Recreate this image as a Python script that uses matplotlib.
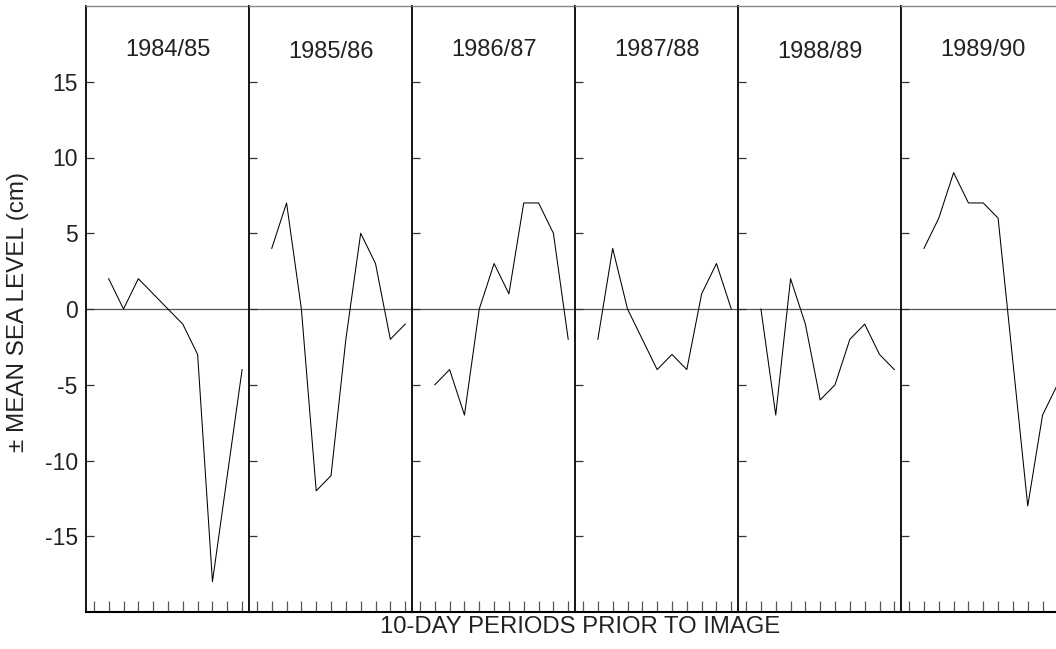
import matplotlib
matplotlib.use("Agg")
import matplotlib.pyplot as plt
import numpy as np

plt.rcParams['font.family'] = ['Liberation Sans', 'DejaVu Sans']
plt.rcParams['axes.unicode_minus'] = False

seasons = ["1984/85", "1985/86", "1986/87", "1987/88", "1988/89", "1989/90"]
periods = list(range(1, 11))
s1984 = [2, 0, 2, 1, 0, -1, -3, -18, -11, -4]
s1985 = [4, 7, 0, -12, -11, -2, 5, 3, -2, -1]
s1986 = [-5, -4, -7, 0, 3, 1, 7, 7, 5, -2]
s1987 = [-2, 4, 0, -2, -4, -3, -4, 1, 3, 0]
s1988 = [0, -7, 2, -1, -6, -5, -2, -1, -3, -4]
s1989 = [4, 6, 9, 7, 7, 6, -3.5, -13, -7, -5]
series = [s1984, s1985, s1986, s1987, s1988, s1989]
yticks = [-15, -10, -5, 0, 5, 10, 15]
xticks = list(range(0, 11))

W, H = 1056, 649
fig = plt.figure(figsize=(W / 100, H / 100), dpi=100)

left0 = 86.0
pw = 163.06
top_px, bot_px = 6.0, 612.0
title_y = [50, 52, 50, 50, 52, 50]

for i, (name, vals) in enumerate(zip(seasons, series)):
    l = left0 + i * pw
    ax = fig.add_axes([l / W, (H - bot_px) / H, pw / W, (bot_px - top_px) / H])
    ax.plot(periods, vals, color='black', lw=0.75)
    ax.axhline(0, color='#555555', lw=0.9, zorder=0)
    ax.set_xlim(-0.53, 10.47)
    ax.set_ylim(-20, 20)
    ax.set_yticks(yticks)
    ax.set_xticks(xticks)
    ax.tick_params(axis='y', direction='in', length=6, width=0.9, colors='#333333',
                   labelsize=16.5, labelcolor='#222222', pad=6)
    ax.tick_params(axis='x', direction='in', length=8, width=0.9, colors='#555555',
                   labelbottom=False)
    if i > 0:
        ax.tick_params(axis='y', labelleft=False)
    ax.spines['right'].set_visible(False)
    ax.spines['left'].set_linewidth(1.3)
    ax.spines['left'].set_color('black')
    ax.spines['top'].set_color('#888888')
    ax.spines['top'].set_linewidth(1.0)
    ax.spines['bottom'].set_linewidth(1.5)
    ax.spines['bottom'].set_color('black')
    ax.text(0.5, 1 - (title_y[i] - top_px) / (bot_px - top_px),
            name, transform=ax.transAxes, ha='center', va='center',
            fontsize=17, color='#222222')

fig.text(18 / W, 1 - 312 / H, "\u00b1 MEAN SEA LEVEL (cm)", rotation=90,
         ha='center', va='center', fontsize=17.5, color='#222222')
fig.text(580 / W, 1 - 627 / H, "10-DAY PERIODS PRIOR TO IMAGE",
         ha='center', va='center', fontsize=17.2, color='#222222')

fig.savefig("out.png", dpi=100)
